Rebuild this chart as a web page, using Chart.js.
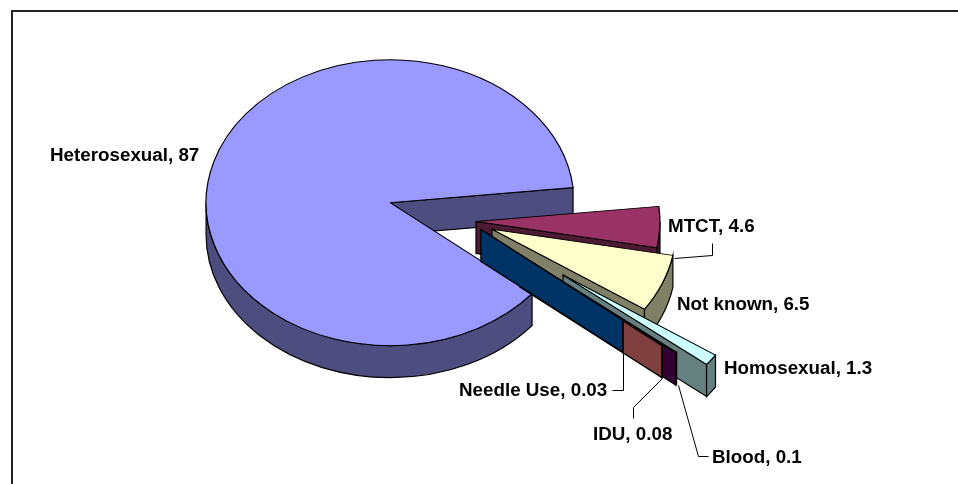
<!DOCTYPE html>
<html><head><meta charset="utf-8">
<script src="https://cdn.jsdelivr.net/npm/chart.js@4/dist/chart.umd.min.js"></script>
<style>
html,body{margin:0;padding:0;background:#fff;overflow:hidden;width:958px;height:484px}
#frame{position:absolute;left:11px;top:10px;width:1000px;height:500px;border:2px solid #222;box-sizing:content-box}
canvas{position:absolute;left:0;top:0}
</style></head><body>
<div id="frame"></div>
<canvas id="c" width="958" height="484"></canvas>
<script>
const categories = ["Heterosexual","MTCT","Not known","Homosexual","Blood","IDU","Needle Use"];
const values = [87,4.6,6.5,1.3,0.1,0.08,0.03];
const topColors = ["#9999FF","#993366","#FFFFCC","#CCFFFF","#660066","#FF8080","#0066CC"];
const sideColors = ["#4D4D80","#4D1A33","#808066","#668080","#330033","#804040","#003366"];
const explode = [73,16,34.6,128,94,77,27];
const liftY = [0,2,0,-3,-2,-2,-3];

const SQUISH = 0.777, DEPTH = 32, RADIUS = 184, LINE = 1.2;

// label anchor (left x, middle y) and leader polyline in page pixels
const labelLayout = [
  {x:50,y:156,leader:null},
  {x:668,y:227,leader:[[674,258],[712,255],[712,243]]},
  {x:677,y:305,leader:null},
  {x:724,y:369,leader:null},
  {x:712,y:458,leader:[[678,385],[698,456],[708,456]]},
  {x:593,y:435,leader:[[662,378],[633,407],[633,418]]},
  {x:459,y:391,leader:[[623,353],[623,390],[612,390]]}
];

function drawSides(ctx, arc, dx, dy, side){
  const {x, y, startAngle:s, endAngle:e, outerRadius:r} = arc;
  const cx = x + dx, cy = y + dy, ry = r*SQUISH;
  ctx.save();
  ctx.fillStyle = side; ctx.strokeStyle = '#000'; ctx.lineWidth = LINE; ctx.lineJoin='miter';
  const face = a => {
    const px = cx + Math.cos(a)*r, py = cy + Math.sin(a)*ry;
    ctx.beginPath(); ctx.moveTo(cx,cy); ctx.lineTo(px,py);
    ctx.lineTo(px,py+DEPTH); ctx.lineTo(cx,cy+DEPTH); ctx.closePath();
    ctx.fill(); ctx.stroke();
  };
  if (-Math.cos(s) > 0) face(s);
  if (Math.cos(e) > 0) face(e);
  // rim: only the front half of the ellipse faces the viewer
  [[0,Math.PI],[2*Math.PI,3*Math.PI]].forEach(([lo,hi])=>{
    const a = Math.max(s,lo), b = Math.min(e,hi);
    if (b <= a) return;
    ctx.beginPath();
    ctx.ellipse(cx,cy,r,ry,0,a,b);
    ctx.ellipse(cx,cy+DEPTH,r,ry,0,b,a,true);
    ctx.closePath(); ctx.fill(); ctx.stroke();
  });
  ctx.restore();
}

const pie3d = {
  id:'pie3d',
  beforeDatasetDraw(chart,args){
    const ctx = chart.ctx, meta = args.meta;
    meta.data.forEach((arc,i)=>{
      const mid = (arc.startAngle+arc.endAngle)/2;
      const ex = Math.cos(mid)*explode[i], ey = Math.sin(mid)*explode[i];
      drawSides(ctx, arc, ex, ey*SQUISH+liftY[i], sideColors[i]);
      ctx.save();
      ctx.translate(arc.x, arc.y+liftY[i]);
      ctx.scale(1,SQUISH);
      ctx.translate(-arc.x+ex, -arc.y+ey);
      arc.draw(ctx);
      ctx.restore();
    });
    return false;
  },
  afterDraw(chart){
    const ctx = chart.ctx;
    ctx.save();
    ctx.font = 'bold 18.8px "Liberation Sans", Arial, sans-serif';
    ctx.textBaseline='middle'; ctx.fillStyle='#000';
    ctx.strokeStyle='#000'; ctx.lineWidth=1;
    categories.forEach((name,i)=>{
      const l = labelLayout[i];
      ctx.fillText(name+', '+values[i], l.x, l.y);
      if (l.leader){
        ctx.beginPath();
        l.leader.forEach((p,j)=> j? ctx.lineTo(p[0]+.5,p[1]+.5) : ctx.moveTo(p[0]+.5,p[1]+.5));
        ctx.stroke();
      }
    });
    ctx.restore();
  }
};

new Chart(document.getElementById('c'),{
  type:'pie',
  data:{labels:categories,datasets:[{data:values,backgroundColor:topColors,borderColor:'#000',borderWidth:LINE}]},
  options:{
    responsive:false,animation:false,
    radius:RADIUS,rotation:129.5,
    layout:{padding:{left:0,top:0,right:38,bottom:46}},
    plugins:{legend:{display:false},tooltip:{enabled:false},title:{display:false}}
  },
  plugins:[pie3d]
});
</script>
</body></html>
